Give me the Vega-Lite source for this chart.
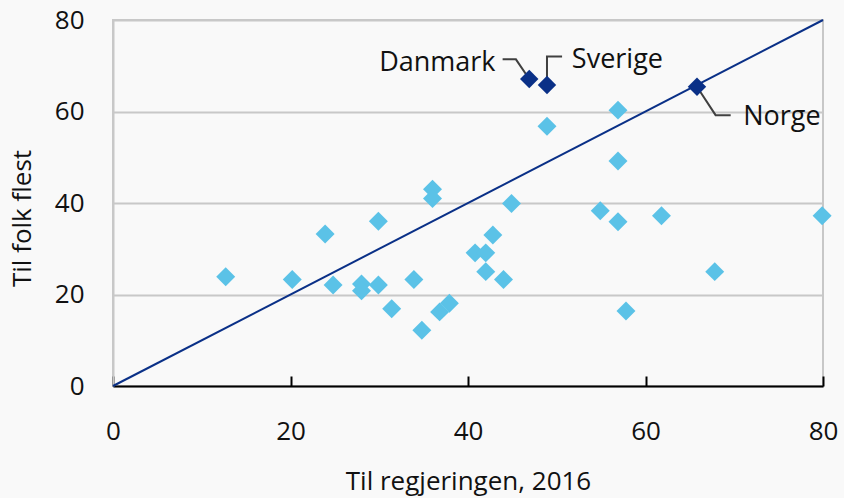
{
  "$schema": "https://vega.github.io/schema/vega-lite/v6.json",
  "width": 710,
  "height": 366,
  "autosize": {"type": "none"},
  "padding": {"left": 113, "top": 20, "right": 21, "bottom": 112},
  "background": "#f9f9f9",
  "config": {
    "font": "Open Sans",
    "view": {"stroke": "#c8c8c8", "strokeWidth": 2},
    "axis": {"labelColor": "#111111", "titleColor": "#111111", "titleFontWeight": "normal"}
  },
  "datasets": {
    "points": [
      {"land": "A", "regjering": 12.7, "folk": 23.9, "gruppe": "Andre"},
      {"land": "B", "regjering": 20.2, "folk": 23.3, "gruppe": "Andre"},
      {"land": "C", "regjering": 23.9, "folk": 33.2, "gruppe": "Andre"},
      {"land": "D", "regjering": 24.8, "folk": 22.1, "gruppe": "Andre"},
      {"land": "E", "regjering": 28.0, "folk": 22.3, "gruppe": "Andre"},
      {"land": "F", "regjering": 28.0, "folk": 20.8, "gruppe": "Andre"},
      {"land": "G", "regjering": 29.9, "folk": 36.0, "gruppe": "Andre"},
      {"land": "H", "regjering": 29.9, "folk": 22.1, "gruppe": "Andre"},
      {"land": "I", "regjering": 31.4, "folk": 16.9, "gruppe": "Andre"},
      {"land": "J", "regjering": 33.9, "folk": 23.3, "gruppe": "Andre"},
      {"land": "K", "regjering": 34.8, "folk": 12.2, "gruppe": "Andre"},
      {"land": "L", "regjering": 36.0, "folk": 43.0, "gruppe": "Andre"},
      {"land": "M", "regjering": 36.0, "folk": 41.0, "gruppe": "Andre"},
      {"land": "N", "regjering": 36.8, "folk": 16.2, "gruppe": "Andre"},
      {"land": "O", "regjering": 37.9, "folk": 18.1, "gruppe": "Andre"},
      {"land": "P", "regjering": 40.8, "folk": 29.1, "gruppe": "Andre"},
      {"land": "Q", "regjering": 42.0, "folk": 29.1, "gruppe": "Andre"},
      {"land": "R", "regjering": 42.8, "folk": 33.0, "gruppe": "Andre"},
      {"land": "S", "regjering": 42.0, "folk": 25.0, "gruppe": "Andre"},
      {"land": "T", "regjering": 44.0, "folk": 23.3, "gruppe": "Andre"},
      {"land": "U", "regjering": 44.9, "folk": 39.9, "gruppe": "Andre"},
      {"land": "V", "regjering": 54.9, "folk": 38.3, "gruppe": "Andre"},
      {"land": "W", "regjering": 56.9, "folk": 35.9, "gruppe": "Andre"},
      {"land": "X", "regjering": 61.8, "folk": 37.2, "gruppe": "Andre"},
      {"land": "Y", "regjering": 79.9, "folk": 37.2, "gruppe": "Andre"},
      {"land": "Z", "regjering": 67.8, "folk": 25.0, "gruppe": "Andre"},
      {"land": "AA", "regjering": 57.8, "folk": 16.4, "gruppe": "Andre"},
      {"land": "AB", "regjering": 56.9, "folk": 60.3, "gruppe": "Andre"},
      {"land": "AC", "regjering": 48.9, "folk": 56.8, "gruppe": "Andre"},
      {"land": "AD", "regjering": 56.9, "folk": 49.2, "gruppe": "Andre"},
      {"land": "Danmark", "regjering": 46.9, "folk": 67.1, "gruppe": "Norden"},
      {"land": "Sverige", "regjering": 48.9, "folk": 65.8, "gruppe": "Norden"},
      {"land": "Norge", "regjering": 65.8, "folk": 65.4, "gruppe": "Norden"}
    ],
    "diagonal": [
      {"regjering": 0, "folk": 0},
      {"regjering": 80, "folk": 80}
    ],
    "leaders": [
      {"land": "Danmark", "ordre": 1, "regjering": 43.9, "folk": 71.4},
      {"land": "Danmark", "ordre": 2, "regjering": 45.4, "folk": 71.4},
      {"land": "Danmark", "ordre": 3, "regjering": 46.9, "folk": 67.1},
      {"land": "Sverige", "ordre": 1, "regjering": 48.9, "folk": 65.8},
      {"land": "Sverige", "ordre": 2, "regjering": 48.9, "folk": 72.0},
      {"land": "Sverige", "ordre": 3, "regjering": 50.6, "folk": 72.0},
      {"land": "Norge", "ordre": 1, "regjering": 65.8, "folk": 65.4},
      {"land": "Norge", "ordre": 2, "regjering": 67.9, "folk": 59.2},
      {"land": "Norge", "ordre": 3, "regjering": 69.6, "folk": 59.2}
    ],
    "labels": [
      {"land": "Danmark", "regjering": 43.1, "folk": 70.6, "justering": "right"},
      {"land": "Sverige", "regjering": 51.7, "folk": 71.3, "justering": "left"},
      {"land": "Norge", "regjering": 71.0, "folk": 58.7, "justering": "left"}
    ]
  },
  "encoding": {
    "x": {
      "field": "regjering", "type": "quantitative",
      "scale": {"domain": [0, 80], "nice": false, "zero": true},
      "axis": {
        "title": "Til regjeringen, 2016",
        "values": [0, 20, 40, 60, 80],
        "grid": false,
        "domainColor": "#000000", "domainWidth": 2,
        "tickColor": "#000000", "tickWidth": 2, "tickSize": -10,
        "labelFontSize": 26, "labelPadding": 42, "labelFlush": false,
        "titleFontSize": 26, "titleX": 355, "titleY": 103, "titleBaseline": "alphabetic"
      }
    },
    "y": {
      "field": "folk", "type": "quantitative",
      "scale": {"domain": [0, 80], "nice": false, "zero": true},
      "axis": {
        "title": "Til folk flest",
        "values": [0, 20, 40, 60, 80],
        "grid": true, "gridColor": "#c8c8c8", "gridWidth": 2,
        "domainColor": "#c8c8c8", "domainWidth": 2,
        "ticks": false,
        "labelFontSize": 26, "labelPadding": 29,
        "titleFontSize": 26, "titleX": -91, "titleY": 198, "titleBaseline": "middle", "titleAngle": -90
      }
    }
  },
  "layer": [
    {
      "data": {"name": "points"},
      "transform": [{"filter": "datum.gruppe === 'Andre'"}],
      "mark": {"type": "point", "shape": "diamond", "filled": true, "size": 360, "color": "#5bc2e7", "opacity": 1}
    },
    {
      "data": {"name": "diagonal"},
      "mark": {"type": "line", "color": "#0a3087", "strokeWidth": 2},
      "encoding": {}
    },
    {
      "data": {"name": "leaders"},
      "mark": {"type": "line", "color": "#404040", "strokeWidth": 2},
      "encoding": {"detail": {"field": "land"}, "order": {"field": "ordre"}}
    },
    {
      "data": {"name": "points"},
      "transform": [{"filter": "datum.gruppe === 'Norden'"}],
      "mark": {"type": "point", "shape": "diamond", "filled": true, "size": 340, "color": "#0a3087", "opacity": 1}
    },
    {
      "data": {"name": "labels"},
      "transform": [{"filter": "datum.justering === 'right'"}],
      "mark": {"type": "text", "align": "right", "baseline": "middle", "fontSize": 27, "color": "#111111"},
      "encoding": {"text": {"field": "land"}}
    },
    {
      "data": {"name": "labels"},
      "transform": [{"filter": "datum.justering === 'left'"}],
      "mark": {"type": "text", "align": "left", "baseline": "middle", "fontSize": 27, "color": "#111111"},
      "encoding": {"text": {"field": "land"}}
    }
  ]
}
